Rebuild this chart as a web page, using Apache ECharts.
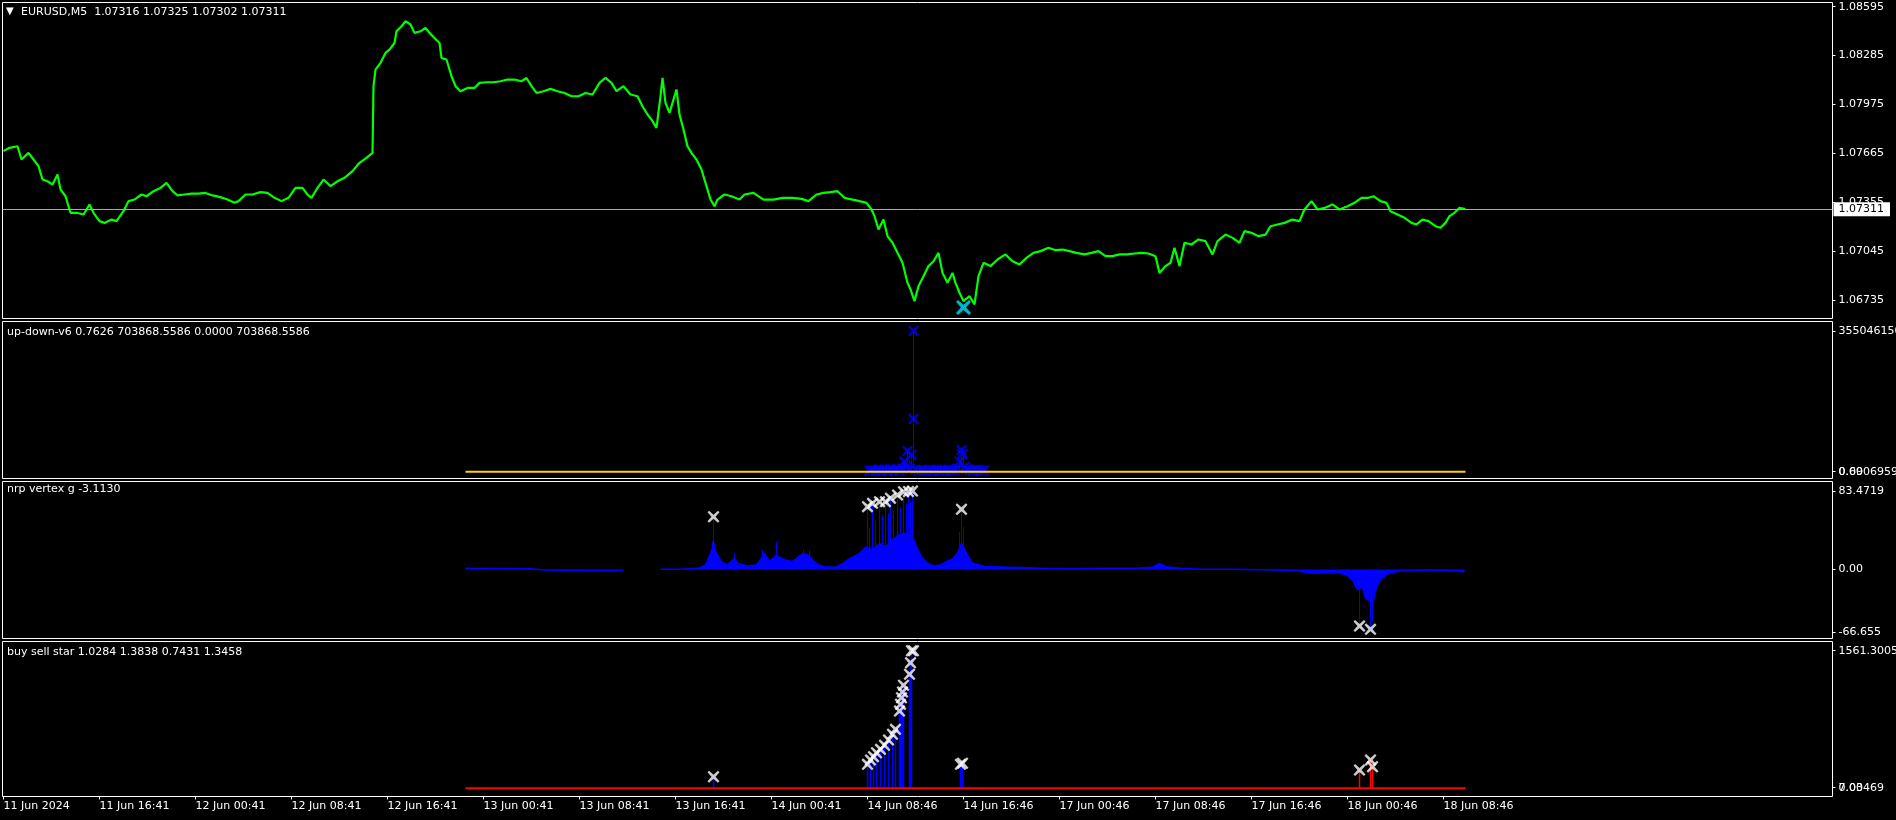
<!DOCTYPE html>
<html>
<head>
<meta charset="utf-8">
<script src="https://cdn.jsdelivr.net/npm/echarts@6/dist/echarts.min.js"></script>
<style>
html,body{margin:0;padding:0;background:#000;}
#chart{width:1896px;height:820px;}
</style>
</head>
<body>
<div id="chart"></div>
<script>
// ---------------- DATA ----------------
const priceIdx = [0,6,14,18,25,30,35,39,44,49,54,57,62,67,73,80,86,90,96,101,108,113,120,125,131,138,143,150,157,163,169,174,181,188,195,202,209,216,224,231,235,242,249,257,264,271,278,285,292,299,304,308,313,320,327,334,341,349,356,363,369,370,372,377,382,386,391,393,398,402,407,411,417,422,426,431,436,438,443,448,452,457,464,471,476,483,490,497,504,511,518,523,528,533,540,547,554,561,568,575,582,589,596,602,608,613,620,627,634,639,644,648,653,657,659,662,666,669,673,676,680,684,688,693,698,703,707,711,714,721,728,736,741,750,760,770,779,789,798,805,813,820,827,834,841,849,856,863,868,871,875,880,884,889,894,899,904,907,911,915,920,925,930,935,939,944,949,952,956,960,966,971,975,980,987,994,1002,1009,1016,1023,1030,1037,1045,1052,1059,1066,1073,1081,1088,1095,1102,1109,1116,1124,1131,1138,1145,1152,1156,1162,1167,1171,1176,1181,1188,1195,1202,1209,1214,1222,1229,1236,1241,1248,1255,1262,1267,1274,1281,1289,1296,1301,1308,1314,1321,1329,1336,1344,1351,1358,1365,1370,1377,1383,1387,1394,1401,1408,1413,1419,1425,1432,1437,1442,1446,1451,1456,1462];
const priceVal = [1.07679,1.07700,1.07710,1.07626,1.07668,1.07626,1.07584,1.07499,1.07488,1.07467,1.07531,1.07436,1.07393,1.07288,1.07288,1.07277,1.07341,1.07288,1.07235,1.07224,1.07245,1.07235,1.07298,1.07362,1.07372,1.07404,1.07393,1.07425,1.07446,1.07478,1.07425,1.07398,1.07404,1.07410,1.07410,1.07414,1.07398,1.07389,1.07372,1.07351,1.07362,1.07404,1.07404,1.07419,1.07414,1.07383,1.07362,1.07383,1.07446,1.07446,1.07404,1.07383,1.07436,1.07499,1.07457,1.07488,1.07510,1.07552,1.07605,1.07636,1.07668,1.08091,1.08196,1.08239,1.08302,1.08323,1.08365,1.08439,1.08471,1.08503,1.08482,1.08429,1.08439,1.08460,1.08429,1.08397,1.08365,1.08270,1.08260,1.08154,1.08091,1.08059,1.08080,1.08080,1.08112,1.08116,1.08116,1.08122,1.08133,1.08133,1.08122,1.08143,1.08091,1.08048,1.08059,1.08074,1.08059,1.08048,1.08027,1.08027,1.08048,1.08038,1.08112,1.08143,1.08112,1.08059,1.08091,1.08038,1.08027,1.07964,1.07911,1.07879,1.07827,1.08027,1.08143,1.07985,1.07922,1.07985,1.08070,1.07911,1.07816,1.07710,1.07668,1.07626,1.07562,1.07457,1.07372,1.07330,1.07372,1.07404,1.07393,1.07372,1.07404,1.07414,1.07372,1.07372,1.07383,1.07383,1.07376,1.07362,1.07404,1.07414,1.07419,1.07425,1.07383,1.07372,1.07362,1.07351,1.07309,1.07267,1.07182,1.07245,1.07140,1.07098,1.07034,1.06971,1.06844,1.06802,1.06728,1.06823,1.06886,1.06950,1.06981,1.07034,1.06907,1.06844,1.06907,1.06844,1.06781,1.06728,1.06759,1.06707,1.06886,1.06971,1.06950,1.06992,1.07024,1.06981,1.06960,1.07002,1.07034,1.07045,1.07066,1.07051,1.07055,1.07045,1.07034,1.07024,1.07034,1.07045,1.07013,1.07013,1.07024,1.07024,1.07030,1.07034,1.07030,1.07013,1.06907,1.06950,1.06971,1.07066,1.06950,1.07098,1.07087,1.07119,1.07108,1.07024,1.07108,1.07150,1.07129,1.07098,1.07172,1.07161,1.07140,1.07150,1.07203,1.07214,1.07224,1.07245,1.07235,1.07309,1.07362,1.07309,1.07319,1.07341,1.07309,1.07330,1.07351,1.07383,1.07383,1.07393,1.07362,1.07351,1.07298,1.07277,1.07256,1.07224,1.07214,1.07245,1.07235,1.07203,1.07193,1.07224,1.07267,1.07288,1.07319,1.07311];
const lastPrice = 1.07311;
const signalIdx = [960];
const signalVal = [1.06688];
const priceTicks = [1.08595,1.08285,1.07975,1.07665,1.07355,1.07045,1.06735];

const timeTickIdx = [0,96,192,288,384,480,576,672,768,864,960,1056,1152,1248,1344,1440];
const timeTickLabels = ['11 Jun 2024','11 Jun 16:41','12 Jun 00:41','12 Jun 08:41','12 Jun 16:41','13 Jun 00:41','13 Jun 08:41','13 Jun 16:41','14 Jun 00:41','14 Jun 08:46','14 Jun 16:46','17 Jun 00:46','17 Jun 08:46','17 Jun 16:46','18 Jun 00:46','18 Jun 08:46'];

// up-down-v6
const udLineIdx = [462,1462];
const udLineVal = [0.6906959,0.6906959];
const udBarIdx = [870,875,880,886,892,897,901,904,906,908,910,912,956,958,960,963];
const udBarVal = [3.1e6,4.0e6,2.6e6,5.2e6,3.8e6,6.5e6,25.2e6,52.2e6,30e6,42e6,355046150,12e6,25.2e6,54.8e6,44.7e6,8e6];
const udMarkIdx = [866,869,872,875,878,881,884,887,890,893,896,899,901,903,904,906,908,910,910,912,915,918,921,924,927,930,933,936,939,942,945,948,951,954,956,958,959,961,963,966,969,972,975,978,981];
const udMarkVal = [3.0e6,4.2e6,2.5e6,5.0e6,3.5e6,4.8e6,2.8e6,6.0e6,4.0e6,5.5e6,3.2e6,8.0e6,25.2e6,12e6,52.2e6,8e6,42.1e6,133e6,355046150,5e6,3.2e6,4.5e6,2.6e6,3.8e6,4.1e6,3.0e6,5.2e6,2.4e6,4.4e6,3.1e6,5.0e6,2.8e6,4.2e6,8.0e6,25.2e6,54.8e6,44.7e6,12e6,6e6,4.5e6,3.0e6,4.8e6,4.0e6,3.3e6,3.5e6];
const udTicks = [355046150,0.6906959];
const udTickLabels = ['355046150','0.6906959'];
const udZeroTicks = [0];
const udZeroLabels = ['0.00'];

// nrp vertex g
const nrpIdx = [462,528,541,595,608,620,628,657,676,695,702,707,710,713,718,724,731,734,744,753,758,761,766,773,776,782,789,795,800,805,809,815,821,831,837,844,850,856,863,869,876,882,889,895,901,908,913,918,924,930,937,943,950,954,958,963,969,976,982,992,1005,1024,1037,1069,1101,1133,1149,1156,1162,1178,1198,1230,1269,1294,1307,1320,1333,1343,1349,1354,1359,1362,1365,1370,1373,1378,1385,1397,1423,1449,1461];
const nrpVal = [1.14,0.78,-0.64,-1.35,-1.35,-0.64,null,0.07,0.07,1.14,4.69,17.1,25.9,17.1,8.3,4.69,11.8,6.5,3.6,4.69,11.8,17.1,8.3,15.3,12.8,10.0,8.3,13.5,17.1,15.3,10.0,4.69,2.9,2.2,4.69,10.0,13.5,17.1,24.1,20.6,27.7,24.1,31.2,36.5,38.3,36.5,24.1,13.5,6.5,3.6,4.69,8.3,11.8,17.1,27.7,17.1,6.5,4.69,2.9,2.9,2.2,1.85,1.14,0.78,1.14,1.14,2.2,6.5,2.9,1.14,0.07,0.07,-0.64,-1.35,-4.2,-3.5,-2.8,-6.0,-11.3,-21.9,-18.4,-30.8,-32.6,-32.6,-18.4,-9.6,-4.2,-1.35,-0.64,-1.35,-2.5];
const nrpBarIdx = [709,710,711,731,759,773,800,806,864,866,869,872,876,879,882,885,887,890,894,897,900,903,905,907,909,956,958,960,1356,1367,1369];
const nrpBarVal = [30,56.1,28,17.1,20.6,29.5,20.6,20.6,66.8,45,70.3,52,72.1,58,72.1,60,75.7,62,79.2,66,82.7,70,83.0,72,83.47,40,64.0,45,-60.3,-63.8,-55];
const nrpMarkIdx = [710,864,869,876,882,887,894,900,905,909,958,1356,1367];
const nrpMarkVal = [56.1,66.8,70.3,72.1,72.1,75.7,79.2,82.7,83.0,83.47,64.0,-60.3,-63.8];
const nrpTicks = [83.4719,0,-66.655];
const nrpTickLabels = ['83.4719','0.00','-66.655'];

// buy sell star
const bsLineIdx = [462,1462];
const bsLineVal = [0,0];
const bsBlueIdx = [710,864,867,870,873,877,881,885,889,892,896,897,898,899,900,906,907,908,957,959];
const bsBlueVal = [131.8,272,321,359,404,442,488,548,613,669,877,953,1028,1093,1169,1294,1425,1561.3,272,284];
const bsRedIdx = [1356,1367,1369];
const bsRedVal = [207.7,321,245];
const bsMarkIdx = [710,864,867,870,873,877,881,885,889,892,896,897,898,899,900,906,907,908,910,957,959,1356,1367,1369];
const bsMarkVal = [131.8,272,321,359,404,442,488,548,613,669,877,953,1028,1093,1169,1294,1425,1561.3,1561.3,272,284,207.7,321,245];
const bsTicks = [1561.3005,7.03469];
const bsTickLabels = ['1561.3005','7.03469'];
const bsZeroTicks = [0];
const bsZeroLabels = ['0.00'];

// ---------------- CHART ----------------
const FONT = 'DejaVu Sans';
const zip = (a, b) => a.map((x, i) => [x, b[i] === null ? '-' : b[i]]);
const pick = (vals, labels) => (v) => {
  let best = 0, d = Infinity;
  vals.forEach((t, i) => { const dd = Math.abs(t - v); if (dd < d) { d = dd; best = i; } });
  return labels[best];
};
const XPATH = 'path://M1.3,0 L5,3.3 L8.7,0 L10,1.3 L6.7,5 L10,8.7 L8.7,10 L5,6.7 L1.3,10 L0,8.7 L3.3,5 L0,1.3 Z';

const gridBoxes = [
  {top: 2.5, height: 316},
  {top: 321.5, height: 157},
  {top: 481.5, height: 157},
  {top: 641.5, height: 155}
];
const yRanges = [
  [1.066177, 1.086216],
  [-17159304, 379018735],
  [-73.57, 93.59],
  [-93.0, 1665.7]
];

const txt = {color: '#ffffff', fontFamily: FONT, fontSize: 11, lineHeight: 13, fontWeight: 'normal'};

function yAx(gi, ticks, fmt, showTick) {
  return {
    type: 'value', gridIndex: gi, position: 'right',
    min: yRanges[gi][0], max: yRanges[gi][1],
    axisLine: {show: false, onZero: false},
    splitLine: {show: false},
    axisTick: {show: showTick, length: 3, customValues: ticks, lineStyle: {color: '#ffffff'}},
    axisLabel: {
      show: true, customValues: ticks, margin: 6, formatter: fmt,
      color: '#ffffff', fontFamily: FONT, fontSize: 11, hideOverlap: false
    }
  };
}

const option = {
  backgroundColor: '#000000',
  animation: false,
  title: [
    {text: '▼', left: 6, top: 6, padding: 0, textStyle: {color: '#fff', fontFamily: FONT, fontSize: 10, fontWeight: 'normal'}},
    {text: 'EURUSD,M5  1.07316 1.07325 1.07302 1.07311', left: 21, top: 6, padding: 0, textStyle: txt},
    {text: 'up-down-v6 0.7626 703868.5586 0.0000 703868.5586', left: 7, top: 326, padding: 0, textStyle: txt},
    {text: 'nrp vertex g -3.1130', left: 7, top: 483, padding: 0, textStyle: txt},
    {text: 'buy sell star 1.0284 1.3838 0.7431 1.3458', left: 7, top: 646, padding: 0, textStyle: txt}
  ],
  grid: gridBoxes.map(g => ({
    left: 2.5, width: 1830, top: g.top, height: g.height,
    show: true, borderColor: '#ffffff', borderWidth: 1, backgroundColor: 'transparent',
    containLabel: false, outerBoundsMode: 'none'
  })),
  xAxis: gridBoxes.map((g, gi) => ({
    type: 'value', gridIndex: gi, min: -1, max: 1829,
    show: gi === 3, position: 'bottom',
    axisLine: {show: false, onZero: false},
    splitLine: {show: false},
    axisTick: {show: true, length: 3, customValues: timeTickIdx, lineStyle: {color: '#ffffff'}},
    axisLabel: {
      show: true, customValues: timeTickIdx, align: 'left', margin: 4,
      formatter: v => timeTickLabels[timeTickIdx.indexOf(v)],
      color: '#ffffff', fontFamily: FONT, fontSize: 11
    }
  })),
  yAxis: [
    yAx(0, priceTicks, v => v.toFixed(5), true),
    yAx(1, udTicks, pick(udTicks, udTickLabels), true),
    yAx(2, nrpTicks, pick(nrpTicks, nrpTickLabels), true),
    yAx(3, bsTicks, pick(bsTicks, bsTickLabels), true),
    yAx(1, udZeroTicks, pick(udZeroTicks, udZeroLabels), false),
    yAx(3, bsZeroTicks, pick(bsZeroTicks, bsZeroLabels), false)
  ],
  series: [
    {
      type: 'line', xAxisIndex: 0, yAxisIndex: 0, data: zip(priceIdx, priceVal),
      symbol: 'none', lineStyle: {color: '#00ff00', width: 2.2}, z: 3,
      markLine: {
        silent: true, symbol: 'none', animation: false, precision: 5,
        data: [{yAxis: lastPrice}],
        lineStyle: {color: '#a8a8a8', width: 1, type: 'solid'},
        label: {
          show: true, position: 'end', distance: 1, formatter: lastPrice.toFixed(5),
          color: '#000000', backgroundColor: '#ffffff', padding: [1, 6, 0, 5],
          fontFamily: FONT, fontSize: 11, lineHeight: 13
        }
      }
    },
    {
      type: 'scatter', xAxisIndex: 0, yAxisIndex: 0, data: zip(signalIdx, signalVal),
      symbol: XPATH, symbolSize: 15, itemStyle: {color: '#00e1ff'}, z: 5
    },
    // up-down-v6
    {
      type: 'line', xAxisIndex: 1, yAxisIndex: 1, data: zip(udLineIdx, udLineVal),
      symbol: 'none', lineStyle: {color: '#ffd200', width: 2}
    },
    {
      type: 'bar', xAxisIndex: 1, yAxisIndex: 1, data: zip(udBarIdx, udBarVal),
      barWidth: 1, itemStyle: {color: '#0000ff'}
    },
    {
      type: 'scatter', xAxisIndex: 1, yAxisIndex: 1, data: zip(udMarkIdx, udMarkVal),
      symbol: XPATH, symbolSize: 11, itemStyle: {color: '#0000ff'}
    },
    // nrp vertex g
    {
      type: 'line', xAxisIndex: 2, yAxisIndex: 2, data: zip(nrpIdx, nrpVal),
      symbol: 'none', connectNulls: false,
      lineStyle: {color: '#0000ff', width: 1.5},
      areaStyle: {color: '#0000ff', opacity: 1, origin: 0}
    },
    {
      type: 'bar', xAxisIndex: 2, yAxisIndex: 2, data: zip(nrpBarIdx, nrpBarVal),
      barWidth: 1, itemStyle: {color: '#0000ff'}
    },
    {
      type: 'scatter', xAxisIndex: 2, yAxisIndex: 2, data: zip(nrpMarkIdx, nrpMarkVal),
      symbol: XPATH, symbolSize: 12, itemStyle: {color: '#ffffff'}, z: 4
    },
    // buy sell star
    {
      type: 'bar', xAxisIndex: 3, yAxisIndex: 3, data: zip(bsBlueIdx, bsBlueVal),
      barWidth: 1.5, barGap: '-100%', itemStyle: {color: '#0000ff'}
    },
    {
      type: 'bar', xAxisIndex: 3, yAxisIndex: 3, data: zip(bsRedIdx, bsRedVal),
      barWidth: 1.5, barGap: '-100%', itemStyle: {color: '#ff0000'}
    },
    {
      type: 'line', xAxisIndex: 3, yAxisIndex: 3, data: zip(bsLineIdx, bsLineVal),
      symbol: 'none', lineStyle: {color: '#ff0000', width: 2}
    },
    {
      type: 'scatter', xAxisIndex: 3, yAxisIndex: 3, data: zip(bsMarkIdx, bsMarkVal),
      symbol: XPATH, symbolSize: 12, itemStyle: {color: '#ffffff'}, z: 4
    }
  ]
};

const chart = echarts.init(document.getElementById('chart'), null, {renderer: 'canvas'});
chart.setOption(option);
</script>
</body>
</html>
